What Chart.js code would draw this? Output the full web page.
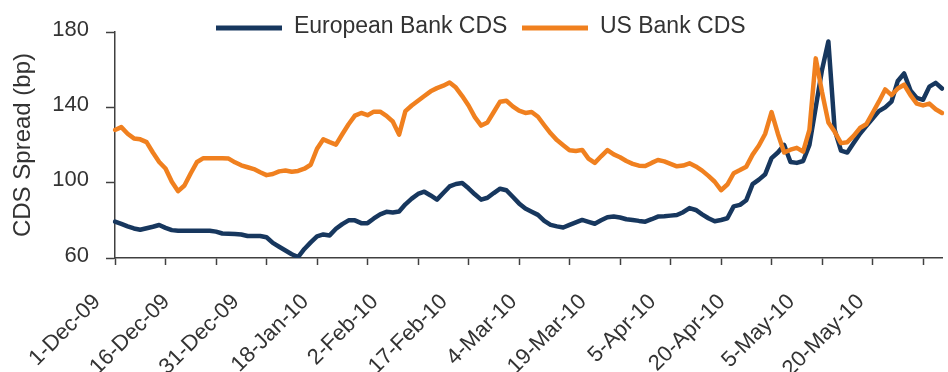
<!DOCTYPE html>
<html><head><meta charset="utf-8">
<script src="https://cdn.jsdelivr.net/npm/chart.js@4.4.1/dist/chart.umd.min.js"></script>
<style>html,body{margin:0;padding:0;background:#fff;}canvas{display:block;}</style>
</head><body>
<canvas id="c" width="948" height="372"></canvas>
<script>
// Business-day categories, 1-Dec-09 .. 3-Jun-10
const categories = [
 '1-Dec-09','2-Dec-09','3-Dec-09','4-Dec-09','7-Dec-09','8-Dec-09','9-Dec-09','10-Dec-09','11-Dec-09','14-Dec-09','15-Dec-09','16-Dec-09','17-Dec-09','18-Dec-09','21-Dec-09','22-Dec-09','23-Dec-09','24-Dec-09','25-Dec-09','28-Dec-09','29-Dec-09','30-Dec-09','31-Dec-09',
 '4-Jan-10','5-Jan-10','6-Jan-10','7-Jan-10','8-Jan-10','11-Jan-10','12-Jan-10','13-Jan-10','14-Jan-10','15-Jan-10','18-Jan-10','19-Jan-10','20-Jan-10','21-Jan-10','22-Jan-10','25-Jan-10','26-Jan-10','27-Jan-10','28-Jan-10','29-Jan-10',
 '1-Feb-10','2-Feb-10','3-Feb-10','4-Feb-10','5-Feb-10','8-Feb-10','9-Feb-10','10-Feb-10','11-Feb-10','12-Feb-10','15-Feb-10','16-Feb-10','17-Feb-10','18-Feb-10','19-Feb-10','22-Feb-10','23-Feb-10','24-Feb-10','25-Feb-10','26-Feb-10',
 '1-Mar-10','2-Mar-10','3-Mar-10','4-Mar-10','5-Mar-10','8-Mar-10','9-Mar-10','10-Mar-10','11-Mar-10','12-Mar-10','15-Mar-10','16-Mar-10','17-Mar-10','18-Mar-10','19-Mar-10','22-Mar-10','23-Mar-10','24-Mar-10','25-Mar-10','26-Mar-10','29-Mar-10','30-Mar-10','31-Mar-10',
 '1-Apr-10','2-Apr-10','5-Apr-10','6-Apr-10','7-Apr-10','8-Apr-10','9-Apr-10','12-Apr-10','13-Apr-10','14-Apr-10','15-Apr-10','16-Apr-10','19-Apr-10','20-Apr-10','21-Apr-10','22-Apr-10','23-Apr-10','26-Apr-10','27-Apr-10','28-Apr-10','29-Apr-10','30-Apr-10',
 '3-May-10','4-May-10','5-May-10','6-May-10','7-May-10','10-May-10','11-May-10','12-May-10','13-May-10','14-May-10','17-May-10','18-May-10','19-May-10','20-May-10','21-May-10','24-May-10','25-May-10','26-May-10','27-May-10','28-May-10','31-May-10',
 '1-Jun-10','2-Jun-10','3-Jun-10'
];
// Labels printed on the date axis
const tickLabels = ['1-Dec-09','16-Dec-09','31-Dec-09','18-Jan-10','2-Feb-10','17-Feb-10','4-Mar-10','19-Mar-10','5-Apr-10','20-Apr-10','5-May-10','20-May-10'];
const yTickValues = [60, 100, 140, 180];

const europeanBankCDS = [
 79.3,78.1,76.8,75.7,75,75.8,76.6,77.5,76,74.8,
 74.5,74.5,74.5,74.5,74.5,74.5,74,73,72.9,72.8,
 72.5,71.7,71.7,71.7,71,68,66,64,62,60.5,
 64.8,68.3,71.5,72.5,72,75.5,78,80,80,78.5,
 78.5,81,83.2,84.5,84.2,84.7,88.5,91.5,94,95.2,
 93.2,91,94.5,98,99.3,99.8,97,93.8,91,92,
 94.5,96.8,96,92.5,89,86.3,84.6,82.9,79.7,77.6,
 76.8,76.2,77.6,78.9,80.2,79.2,78.2,80,81.6,82,
 81.5,80.6,80.2,79.7,79.3,80.6,82,82.2,82.5,82.8,
 84.3,86.5,85.5,83.2,81.1,79.5,80.2,81.1,87.4,88.2,
 90.7,99.2,101.6,104.5,113,116,120,111,110.5,111.5,
 120,140,160,175,128,117,116,121,126,130,
 134,138,140,143,154,158,149,145,144,151,
 153,150
];
const usBankCDS = [
 128,129.5,126,123.5,123,121.5,116,111,107.5,100.5,
 95.5,98.5,105,111,113,113,113,113,112.8,110.8,
 109.2,108.2,107.2,105.5,104,104.6,106,106.5,105.8,106.2,
 107.4,109.5,118,123,121.5,120.2,125.7,131,135.6,137,
 135.8,137.7,137.7,135.5,132.5,125.5,138,141,143.5,146,
 148.5,150.2,151.5,153.2,150.5,146,141,134.8,130.3,132,
 137.5,143,143.5,140.5,138.2,137,137.5,135,130.5,126.2,
 122.6,119.9,117.2,116.8,117.4,112.8,110.5,114,117.3,115,
 113.5,111.5,110,109,108.8,110.5,112,111.3,110,108.7,
 109.1,110.3,108.6,106.4,103.6,100.5,96,99,105,106.7,
 108.5,114.9,119.7,126,137.5,126,116,117.5,118.5,116.5,
 128,166,148,132,127,121,121.5,124.8,129,131,
 137,143,149.5,146.5,150,152,146.5,142,141,142,
 139,137
];

const BLUE = '#17375E';
const ORANGE = '#F0801F';
const TEXT = '#333333';
const AXIS = '#404040';
const FONT = "'Liberation Sans', Arial, sans-serif";

function lineSample(color) {
  const c = document.createElement('canvas');
  c.width = 66; c.height = 18;
  const g = c.getContext('2d');
  g.fillStyle = color;
  g.fillRect(0, 8, 66, 5);
  return c;
}
const samples = [lineSample(BLUE), lineSample(ORANGE)];

const legendFix = {
  id: 'legendFix',
  beforeUpdate(chart) {
    const lg = chart.legend;
    if (lg && !lg._patched) {
      const f = lg.fit;
      lg.fit = function () { f.call(this); this.height = 32; };
      if (typeof lg._draw === 'function') {
        lg.draw = function () { if (this.options.display) { this._draw(); } };
      }
      lg._patched = true;
    }
  }
};

new Chart(document.getElementById('c'), {
  type: 'line',
  data: {
    labels: categories,
    datasets: [
      { label: 'European Bank CDS', data: europeanBankCDS, borderColor: BLUE, backgroundColor: BLUE,
        borderWidth: 4.5, pointRadius: 0, tension: 0, borderJoinStyle: 'round', borderCapStyle: 'round', order: 1 },
      { label: 'US Bank CDS', data: usBankCDS, borderColor: ORANGE, backgroundColor: ORANGE,
        borderWidth: 4.5, pointRadius: 0, tension: 0, borderJoinStyle: 'round', borderCapStyle: 'round', order: 0 }
    ]
  },
  options: {
    responsive: false,
    devicePixelRatio: 1,
    animation: false,
    layout: { padding: { left: 20, right: 6, top: 0, bottom: 0 } },
    plugins: {
      tooltip: { enabled: false },
      legend: {
        display: true,
        position: 'top',
        labels: {
          font: { family: FONT, size: 23 },
          color: TEXT,
          padding: 15,
          usePointStyle: true,
          pointStyleWidth: 66,
          boxHeight: 18,
          sort: (a, b) => a.datasetIndex - b.datasetIndex,
          generateLabels(chart) {
            const items = Chart.defaults.plugins.legend.labels.generateLabels(chart);
            items.forEach(it => { it.pointStyle = samples[it.datasetIndex]; it.lineWidth = 0; });
            return items;
          }
        }
      }
    },
    scales: {
      x: {
        type: 'category',
        offset: false,
        grid: {
          display: true, drawOnChartArea: false, drawTicks: true, tickLength: 7, tickWidth: 1.5,
          tickColor: (ctx) => (ctx.index % 8 === 0 ? AXIS : 'rgba(0,0,0,0)')
        },
        border: { display: true, color: AXIS, width: 1.5 },
        ticks: {
          autoSkip: false, maxRotation: 45, minRotation: 45,
          padding: 24, labelOffset: -18,
          font: { family: FONT, size: 22 }, color: TEXT,
          callback: (v, i) => (i % 11 === 0 && i / 11 < tickLabels.length ? tickLabels[i / 11] : '')
        },
        afterFit: (s) => { s.height = 114; s.paddingLeft = 0; s.paddingRight = 0; }
      },
      y: {
        min: 60, max: 180,
        afterBuildTicks: (s) => { s.ticks = yTickValues.map(v => ({ value: v })); },
        grid: { display: true, drawOnChartArea: false, drawTicks: true, tickLength: 9, tickWidth: 1.5, tickColor: AXIS },
        border: { display: true, color: AXIS, width: 1.5 },
        ticks: { padding: 17, labelOffset: -2.5, font: { family: FONT, size: 22 }, color: TEXT },
        title: { display: true, text: 'CDS Spread (bp)', color: TEXT, font: { family: FONT, size: 24, lineHeight: 0.25 }, padding: 0 },
        afterFit: (s) => { s.width = 95; }
      }
    }
  },
  plugins: [legendFix]
});
</script>
</body></html>
